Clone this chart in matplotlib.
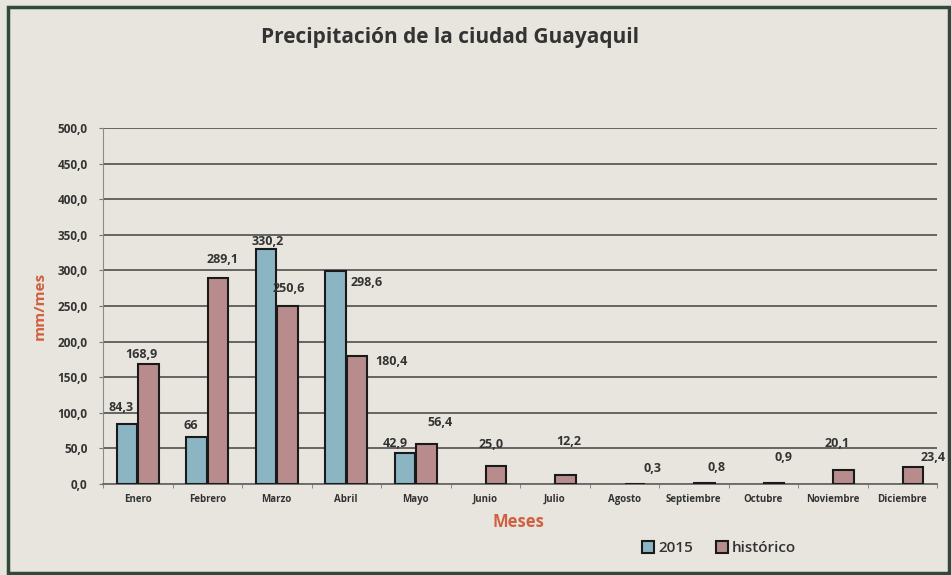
import numpy as np
import matplotlib
matplotlib.use("Agg")
import matplotlib.pyplot as plt
from matplotlib.patches import Rectangle

meses = ["Enero", "Febrero", "Marzo", "Abril", "Mayo", "Junio", "Julio",
         "Agosto", "Septiembre", "Octubre", "Noviembre", "Diciembre"]
v2015 = [84.3, 66, 330.2, 298.6, 42.9, None, None, None, None, None, None, None]
historico = [168.9, 289.1, 250.6, 180.4, 56.4, 25.0, 12.2, 0.3, 0.8, 0.9, 20.1, 23.4]
etiq2015 = ["84,3", "66", "330,2", "298,6", "42,9"]
etiqhist = ["168,9", "289,1", "250,6", "180,4", "56,4", "25,0", "12,2",
            "0,3", "0,8", "0,9", "20,1", "23,4"]

# label offsets in pixels (dx, dy) from the top of each bar
off2015 = [(-6, 16), (-6, 12), (2, 7), (31, -11), (-10, 10)]
offhist = [(-7, 9), (4, 19), (1, 17), (34, -6), (14, 21), (-5, 22), (3, 34),
           (17, 15), (12, 16), (9, 26), (-6, 26), (20, 10)]

BG = "#e7e5de"
AZUL = "#8cb5c4"
ROSA = "#b88c8c"
NARANJA = "#d0603f"
TXT = "#333333"

plt.rcParams['font.family'] = ['Open Sans', 'DejaVu Sans']

fig = plt.figure(figsize=(9.51, 5.75), dpi=100, facecolor=BG)
ax = fig.add_axes([103/951, 1-484/575, 834/951, 356/575])
ax.set_facecolor(BG)

x = np.arange(len(meses))
w = 0.29
y15 = np.array([np.nan if v is None else v for v in v2015], dtype=float)
b1 = ax.bar(x - w/2 - 0.01, y15, w, color=AZUL, edgecolor="#1a1a1a", linewidth=1.5, label="2015", zorder=3)
b2 = ax.bar(x + w/2 + 0.01, historico, w, color=ROSA, edgecolor="#1a1a1a", linewidth=1.5, label="histórico", zorder=3)

for i, t in enumerate(etiq2015):
    ax.annotate(t, (x[i] - w/2 - 0.01, y15[i]), xytext=off2015[i], textcoords="offset pixels",
                ha="center", va="center", fontsize=9, fontweight="bold", color=TXT, zorder=4)
for i, t in enumerate(etiqhist):
    ax.annotate(t, (x[i] + w/2 + 0.01, historico[i]), xytext=offhist[i], textcoords="offset pixels",
                ha="center", va="center", fontsize=9, fontweight="bold", color=TXT, zorder=4)

ax.set_xlim(-0.5, 11.5)
ax.set_ylim(0, 500)
yt = np.arange(0, 501, 50)
ax.set_yticks(yt)
ax.set_yticklabels([f"{v:.1f}".replace(".", ",") for v in yt], fontsize=8.5, fontweight="bold", color=TXT)
ax.yaxis.grid(True, color="#5a5a5a", linewidth=1.3, zorder=0)
ax.set_axisbelow(True)

ax.set_xticks(x)
ax.set_xticklabels(meses, fontsize=7, fontweight="bold", color=TXT)
ax.set_xticks(np.arange(-0.5, 12, 1), minor=True)
ax.tick_params(axis="x", which="major", length=0, pad=7)
ax.tick_params(axis="x", which="minor", length=3, color="#777777")
ax.tick_params(axis="y", length=3, color="#777777", pad=8)

for s in ["top", "right"]:
    ax.spines[s].set_visible(False)
ax.spines["left"].set_color("#8a8a8a")
ax.spines["bottom"].set_color("#6a6a6a")
ax.spines["bottom"].set_linewidth(1.3)

ax.set_ylabel("mm/mes", fontsize=11, fontweight="bold", color=NARANJA, labelpad=8)
fig.text(518/951, 1-522/575, "Meses", ha="center", va="center", fontsize=12, fontweight="bold", color=NARANJA)
fig.text(450/951, 1-37/575, "Precipitación de la ciudad Guayaquil", ha="center", va="center",
         fontsize=15, fontweight="bold", color=TXT)

leg = fig.legend(handles=[b1, b2], loc="center", bbox_to_anchor=(719/951, 1-548/575), ncol=2,
                 frameon=False, prop={"size": 11, "weight": "semibold"}, handlelength=0.8,
                 handleheight=0.8, handletextpad=0.25, columnspacing=1.5)
for t in leg.get_texts():
    t.set_color(TXT)

fig.patches.append(Rectangle((8/951, 2/575), 941/951, 566/575, transform=fig.transFigure,
                             fill=False, edgecolor="#2f4a3c", linewidth=2.5))

fig.savefig("out.png", dpi=100, facecolor=BG)
